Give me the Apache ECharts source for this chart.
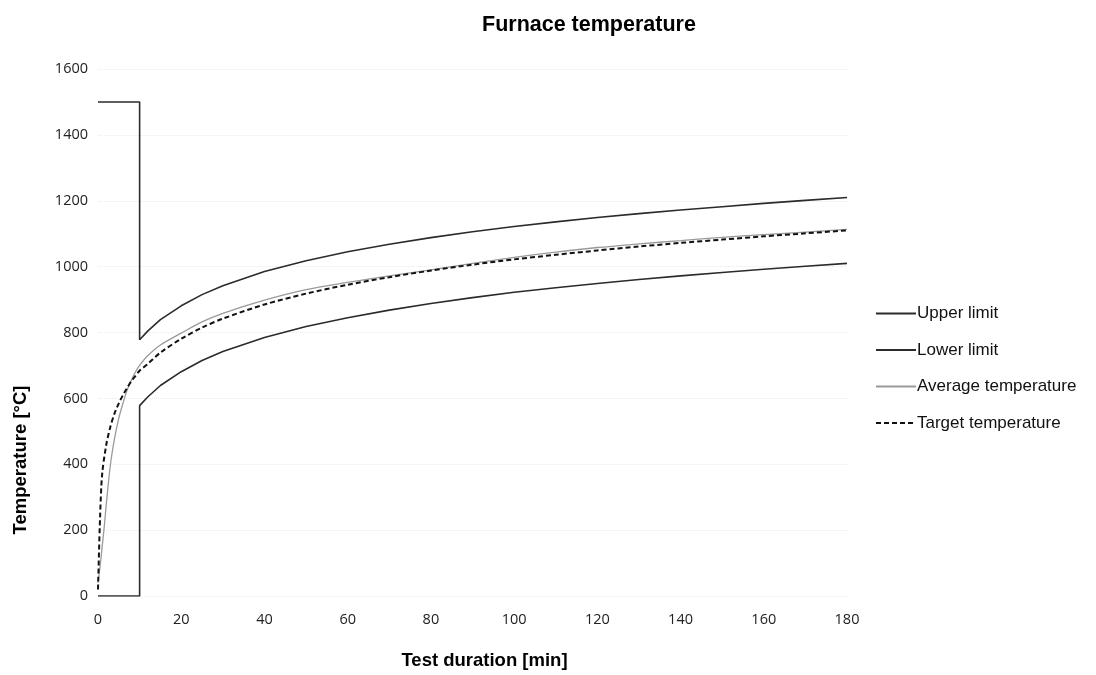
<!DOCTYPE html>
<html>
<head>
<meta charset="utf-8">
<title>Furnace temperature</title>
<script src="https://cdn.jsdelivr.net/npm/echarts@6/dist/echarts.min.js"></script>
<style>
  html, body { margin: 0; padding: 0; background: #fff; }
  #chart { width: 1096px; height: 675px; }
</style>
</head>
<body>
<div id="chart"></div>
<script>
// limits: flat part before 10 min, then the curve
var limitStepTime = [0, 10];
var upperStep = [1500, 1500];
var lowerStep = [0, 0];
var limitTime = [10, 12, 15, 20, 25, 30, 40, 50, 60, 70, 80, 90, 100, 110, 120, 130, 140, 150, 160, 170, 180];
var upperLimit = [778, 805, 839, 881, 915, 942, 985, 1018, 1045, 1068, 1088, 1106, 1122, 1136, 1149, 1161, 1172, 1182, 1192, 1201, 1210];
var lowerLimit = [578, 605, 639, 681, 715, 742, 785, 818, 845, 868, 888, 906, 922, 936, 949, 961, 972, 982, 992, 1001, 1010];

// measured / target
var avgTime = [0, 0.5, 1, 1.5, 2, 3, 4, 5, 6, 7, 8, 9, 10, 12, 15, 20, 25, 30, 40, 50, 60, 70, 80, 90, 100, 110, 120, 130, 140, 150, 160, 170, 180];
var avgTemp = [40, 90, 150, 210, 280, 400, 480, 540, 585, 625, 655, 680, 700, 730, 762, 798, 832, 858, 898, 930, 952, 972, 990, 1010, 1028, 1044, 1058, 1069, 1079, 1089, 1097, 1105, 1113];
var targetTime = [0, 0.5, 1, 2, 3, 4, 5, 6, 7, 8, 9, 10, 12, 15, 20, 25, 30, 40, 50, 60, 70, 80, 90, 100, 110, 120, 130, 140, 150, 160, 170, 180];
var targetTemp = [20, 240, 370, 460, 515, 555, 585, 610, 632, 652, 668, 684, 705, 739, 781, 815, 842, 885, 918, 945, 968, 988, 1006, 1022, 1036, 1049, 1061, 1072, 1082, 1092, 1101, 1110];

var xTicks = [0, 20, 40, 60, 80, 100, 120, 140, 160, 180];
var yTicks = [0, 200, 400, 600, 800, 1000, 1200, 1400, 1600];

function pairs(xs, ys){
    var out = [];
    for(var i=0;i<xs.length;i++){
        out.push([xs[i], ys[i]]);
    }
    return out;
}

var upperData = pairs(limitStepTime, upperStep).concat(pairs(limitTime, upperLimit));
var lowerData = pairs(limitStepTime, lowerStep).concat(pairs(limitTime, lowerLimit));

var myChart = echarts.init(document.getElementById('chart'));
var option = {
    backgroundColor: '#fff',
    animation: false,
    title: {
        text: 'Furnace temperature',
        left: 477,
        top: 9,
        textStyle: {fontFamily: 'Liberation Sans, Arial', fontSize: 21.5, fontWeight: 'bold', color: '#000'}
    },
    legend: {
        orient: 'vertical',
        left: 870,
        top: 300,
        itemWidth: 40,
        itemHeight: 10,
        itemGap: 19.5,
        itemStyle: {opacity: 0},
        textStyle: {fontFamily: 'Liberation Sans, Arial', fontSize: 17, color: '#111', padding: [0, 0, 0, -4]},
        data: ['Upper limit', 'Lower limit', 'Average temperature', 'Target temperature']
    },
    grid: {left: 98, right: 249, top: 69, bottom: 75},
    xAxis: {
        type: 'value',
        min: 0,
        max: 180,
        interval: 20,
        name: 'Test duration [min]',
        nameLocation: 'middle',
        nameGap: 55,
        nameTextStyle: {fontFamily: 'Liberation Sans, Arial', fontSize: 18.5, fontWeight: 'bold', color: '#000', padding: [0, 0, 0, 24]},
        axisLine: {show: false},
        axisTick: {show: false},
        axisLabel: {
            margin: 16,
            fontFamily: 'Open Sans',
            fontSize: 14.5,
            color: '#222',
            formatter: function(v){ return xTicks.indexOf(v) >= 0 ? String(v) : ''; }
        },
        splitLine: {show: false}
    },
    yAxis: {
        type: 'value',
        min: 0,
        max: 1600,
        interval: 200,
        axisLine: {show: false},
        axisTick: {show: false},
        axisLabel: {
            margin: 10,
            fontFamily: 'Open Sans',
            fontSize: 14.5,
            color: '#222',
            formatter: function(v){ return yTicks.indexOf(v) >= 0 ? String(v) : ''; }
        },
        splitLine: {show: true, lineStyle: {color: '#ebebeb', type: 'dotted', width: 1}}
    },
    graphic: [{
        type: 'text',
        x: 21,
        y: 460,
        rotation: Math.PI / 2,
        style: {
            text: 'Temperature [°C]',
            fontFamily: 'Liberation Sans, Arial',
            fontSize: 18.5,
            fontWeight: 'bold',
            fill: '#000',
            textAlign: 'center',
            textVerticalAlign: 'middle'
        }
    }],
    series: [
        {
            name: 'Upper limit',
            type: 'line',
            data: upperData,
            showSymbol: false,
            symbol: 'none',
            lineStyle: {color: '#2b2b2b', width: 1.6},
            itemStyle: {color: '#555'}
        },
        {
            name: 'Lower limit',
            type: 'line',
            data: lowerData,
            showSymbol: false,
            symbol: 'none',
            lineStyle: {color: '#2b2b2b', width: 1.6},
            itemStyle: {color: '#444'}
        },
        {
            name: 'Average temperature',
            type: 'line',
            data: pairs(avgTime, avgTemp),
            showSymbol: false,
            symbol: 'none',
            smooth: 0.3,
            lineStyle: {color: '#9a9a9a', width: 1.3},
            itemStyle: {color: '#888'}
        },
        {
            name: 'Target temperature',
            type: 'line',
            data: pairs(targetTime, targetTemp),
            showSymbol: false,
            symbol: 'none',
            smooth: 0.3,
            lineStyle: {color: '#111', width: 2, type: [5, 3]},
            itemStyle: {color: '#111'}
        }
    ]
};
myChart.setOption(option);
</script>
</body>
</html>
